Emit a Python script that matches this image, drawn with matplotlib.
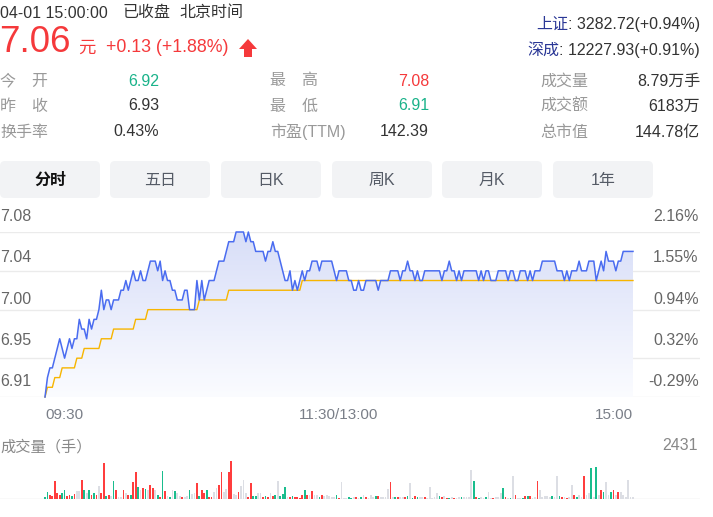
import matplotlib
matplotlib.use('Agg')
import matplotlib.pyplot as plt
import numpy as np
from matplotlib.patches import FancyBboxPatch, Polygon
from matplotlib.colors import LinearSegmentedColormap
from matplotlib.transforms import offset_copy

plt.rcParams['font.family'] = ['Liberation Sans', 'Noto Sans CJK SC', 'DejaVu Sans']

# ---- data -------------------------------------------------------------
# one price per minute, 09:30-11:30 + 13:00-15:00 (241 points)
price = [
    6.91, 6.93, 6.94, 6.94, 6.95, 6.96, 6.97, 6.96, 6.95, 6.96,
    6.97, 6.96, 6.97, 6.97, 6.99, 6.98, 6.98, 6.97, 6.99, 6.98,
    6.99, 6.99, 7.00, 7.02, 7.00, 7.01, 7.01, 7.00, 7.01, 7.01,
    7.01, 7.02, 7.02, 7.03, 7.02, 7.03, 7.04, 7.03, 7.03, 7.04,
    7.03, 7.03, 7.04, 7.05, 7.05, 7.05, 7.04, 7.05, 7.03, 7.04,
    7.03, 7.03, 7.02, 7.02, 7.01, 7.01, 7.01, 7.02, 7.02, 7.00,
    7.00, 7.00, 7.03, 7.01, 7.03, 7.01, 7.02, 7.03, 7.03, 7.03,
    7.04, 7.05, 7.05, 7.05, 7.06, 7.07, 7.07, 7.07, 7.08, 7.08,
    7.08, 7.08, 7.07, 7.08, 7.07, 7.07, 7.06, 7.06, 7.06, 7.06,
    7.05, 7.06, 7.06, 7.07, 7.06, 7.06, 7.05, 7.04, 7.03, 7.03,
    7.04, 7.02, 7.03, 7.02, 7.03, 7.04, 7.03, 7.04, 7.04, 7.05,
    7.05, 7.05, 7.04, 7.05, 7.05, 7.05, 7.05, 7.05, 7.04, 7.03,
    7.04, 7.04, 7.04, 7.04, 7.03, 7.03, 7.02, 7.02, 7.03, 7.02,
    7.02, 7.03, 7.03, 7.03, 7.03, 7.03, 7.02, 7.03, 7.03, 7.03,
    7.03, 7.04, 7.04, 7.04, 7.04, 7.03, 7.04, 7.04, 7.05, 7.04,
    7.04, 7.03, 7.04, 7.03, 7.03, 7.04, 7.04, 7.04, 7.04, 7.04,
    7.04, 7.04, 7.03, 7.04, 7.04, 7.05, 7.04, 7.04, 7.03, 7.04,
    7.03, 7.04, 7.04, 7.04, 7.04, 7.04, 7.04, 7.03, 7.04, 7.03,
    7.04, 7.04, 7.03, 7.03, 7.03, 7.04, 7.04, 7.04, 7.04, 7.03,
    7.04, 7.04, 7.03, 7.03, 7.04, 7.04, 7.04, 7.03, 7.04, 7.03,
    7.04, 7.04, 7.04, 7.05, 7.05, 7.05, 7.05, 7.05, 7.05, 7.04,
    7.04, 7.04, 7.03, 7.04, 7.03, 7.04, 7.04, 7.04, 7.05, 7.04,
    7.04, 7.04, 7.05, 7.05, 7.05, 7.03, 7.04, 7.05, 7.04, 7.06,
    7.05, 7.05, 7.05, 7.04, 7.05, 7.05, 7.06, 7.06, 7.06, 7.06,
    7.06,
]

# average price line: level and how many minutes it holds
avg_levels = [6.91, 6.92, 6.93, 6.94, 6.95, 6.96, 6.97, 6.98, 6.99, 7.00, 7.01, 7.02, 7.03]
avg_counts = [1, 3, 3, 6, 3, 7, 5, 9, 5, 21, 12, 30, 136]

# volume per minute (手) and bar colour: r = up, g = down, x = flat
volume = [
    100, 470, 255, 200, 1150, 400, 255, 400, 575, 190,
    255, 190, 320, 510, 510, 1220, 575, 360, 575, 255,
    360, 255, 830, 360, 2280, 190, 255, 190, 1150, 575,
    150, 150, 575, 360, 255, 255, 1070, 1700, 745, 575,
    720, 660, 575, 890, 720, 575, 255, 150, 1790, 510,
    200, 107, 575, 510, 360, 190, 150, 150, 190, 575,
    300, 360, 1000, 190, 575, 360, 575, 150, 150, 470,
    680, 890, 1700, 470, 620, 1700, 2431, 320, 255, 430,
    830, 1220, 360, 150, 1000, 190, 190, 360, 360, 150,
    190, 150, 360, 190, 255, 1150, 190, 320, 745, 107,
    107, 190, 107, 107, 45, 255, 575, 255, 255, 510,
    255, 255, 107, 255, 190, 255, 190, 150, 150, 255,
    45, 1070, 45, 45, 107, 45, 107, 107, 45, 107,
    255, 107, 45, 255, 150, 190, 190, 107, 107, 107,
    640, 1070, 107, 107, 107, 107, 107, 107, 190, 1000,
    45, 190, 107, 107, 107, 107, 45, 745, 45, 107,
    360, 190, 107, 190, 45, 45, 107, 45, 45, 107,
    107, 107, 107, 107, 1870, 1150, 107, 45, 107, 45,
    107, 430, 45, 45, 107, 107, 360, 680, 107, 45,
    45, 1470, 255, 45, 45, 45, 190, 190, 190, 45,
    107, 1150, 575, 107, 190, 190, 107, 190, 107, 1470,
    190, 107, 107, 45, 107, 890, 255, 107, 255, 107,
    1470, 255, 360, 1960, 107, 2020, 255, 575, 430, 1070,
    255, 430, 575, 255, 430, 430, 255, 107, 1220, 107,
    107,
]
vol_dir = (
    "ggrrrrrggr" "rgrxxrgxgr" "grxrrgrxgr" "xxrxrgrrgx" "rgxrrxgrgr"
    "xgxgxxrxxg" "xxrgrrgrrx" "xrrxxrrxxr" "xxxrrggxxr" "grxrgxgggx"
    "rgrrrrgrxr" "xxgrxxxxxg" "rxxxggxrxg" "xrxxxgrxxx" "xrxgrxxrgx"
    "grgxxrxxxx" "xgrxrgxrxx" "gxxxxgrgxx" "gxxrxxxgrx" "gxrxxgrgrx"
    "xrxxxxxgxx" "grxrxxrgxx" "rxxgxgxrgx" "xgrxrxxxxx" "x"
)

grid_prices = [7.08, 7.04, 7.00, 6.95, 6.91]
price_labels = ['7.08', '7.04', '7.00', '6.95', '6.91']
pct_labels = ['2.16%', '1.55%', '0.94%', '0.32%', '-0.29%']
time_labels = ['09:30', '11:30/13:00', '15:00']
time_ticks = [0, 120, 240]

stats_labels = [['今\u3000开', '昨\u3000收', '换手率'],
                ['最\u3000高', '最\u3000低', '市盈(TTM)'],
                ['成交量', '成交额', '总市值']]
stats_values = [['6.92', '6.93', '0.43%'],
                ['7.08', '6.91', '142.39'],
                ['8.79万手', '6183万', '144.78亿']]
tabs = ['分时', '五日', '日K', '周K', '月K', '1年']

RED = '#f5393b'
GREEN = '#1ab38a'
DARK = '#333333'
GREY = '#999999'

W, H = 713, 517
fig = plt.figure(figsize=(W / 100, H / 100), dpi=100)
fig.patch.set_facecolor('white')

# pixel canvas for the header part
cv = fig.add_axes([0, 0, 1, 1])
cv.set_xlim(0, W)
cv.set_ylim(H, 0)
cv.axis('off')

cv.text(0, 13, '04-01 15:00:00', fontsize=11.5, color=DARK, va='center')
cv.text(122, 13, '已收盘', fontsize=11.5, color=DARK, va='center')
cv.text(179, 13, '北京时间', fontsize=11.5, color=DARK, va='center')
cv.text(-1, 43, '7.06', fontsize=26.5, color=RED, va='center')
cv.text(78, 48, '元', fontsize=12.5, color=RED, va='center')
cv.text(106, 48, '+0.13 (+1.88%)', fontsize=12.8, color=RED, va='center')
cv.add_patch(Polygon([(248, 39), (257, 49), (252, 49), (252, 57), (244, 57), (244, 49), (239, 49)],
                     closed=True, color=RED, lw=0))

renderer = fig.canvas.get_renderer()


def index_line(y, name, rest):
    t = cv.text(700, y, rest, fontsize=11.5, color=DARK, ha='right', va='center')
    bb = t.get_window_extent(renderer)
    x0 = cv.transData.inverted().transform((bb.x0, bb.y0))[0]
    cv.text(x0, y, name, fontsize=11.5, color='#2a3796', ha='right', va='center')


index_line(24, '上证', ': 3282.72(+0.94%)')
index_line(50, '深成', ': 12227.93(+0.91%)')

row_y = [81, 106, 132]
col_label_x = [0, 270, 540]
col_value_x = [159, 429, 700]
value_colors = [[GREEN, DARK, DARK], [RED, GREEN, DARK], [DARK, DARK, DARK]]
for c in range(3):
    for r in range(3):
        cv.text(col_label_x[c], row_y[r], stats_labels[c][r], fontsize=11.5, color=GREY, va='center')
        cv.text(col_value_x[c], row_y[r], stats_values[c][r], fontsize=11.5,
                color=value_colors[c][r], ha='right', va='center')

tab_x = [0, 110, 221, 332, 442, 553]
for i, name in enumerate(tabs):
    cv.add_patch(FancyBboxPatch((tab_x[i], 161), 100, 37, boxstyle='round,pad=0,rounding_size=5',
                                facecolor='#f2f3f5', edgecolor='none'))
    cv.text(tab_x[i] + 50, 180, name, fontsize=11.5, ha='center', va='center',
            color='#111111' if i == 0 else '#555b66', fontweight='bold' if i == 0 else 'normal')

# ---- price chart -----------------------------------------------------
minutes = np.arange(len(price))
avg_price = np.repeat(avg_levels, avg_counts)
px_per_min = 2.45
xlim = (-45 / px_per_min, (700 - 45) / px_per_min)

ax = fig.add_axes([0, 1 - 397 / H, 700 / W, (397 - 232) / H])
ax.patch.set_alpha(0)
for s in ax.spines.values():
    s.set_visible(False)
for g in grid_prices:
    ax.axhline(g, color='#ebebeb', lw=1, zorder=0)

lo, hi = min(grid_prices), max(grid_prices)
fill = ax.fill_between(minutes, price, lo, color='none', lw=0)
cmap = LinearSegmentedColormap.from_list('f', ['#fbfcff', '#d8def8'])
grad = np.linspace(0, 1, 256).reshape(-1, 1)
img = ax.imshow(grad, extent=[0, minutes[-1], lo, hi], origin='lower', cmap=cmap,
                aspect='auto', zorder=1)
img.set_clip_path(fill.get_paths()[0], transform=ax.transData)

ax.plot(minutes, avg_price, color='#f7b500', lw=1.0, zorder=2, clip_on=False)
ax.plot(minutes, price, color='#4a6cf0', lw=1.1, zorder=3, clip_on=False)
ax.set_xlim(*xlim)
ax.set_ylim(lo, hi)
ax.set_yticks([])
ax.set_xticks(time_ticks, time_labels)
ax.tick_params(axis='x', length=0, pad=8, labelsize=11, labelcolor='#7a7f88')
for lbl, a in zip(ax.get_xticklabels(), ['left', 'center', 'right']):
    lbl.set_horizontalalignment(a)

label_levels = np.linspace(hi, lo, len(price_labels))
ytr = offset_copy(ax.get_yaxis_transform(), fig=fig, x=0, y=11, units='points')
for lv, pl, pc in zip(label_levels, price_labels, pct_labels):
    ax.text(0, lv, pl, transform=ytr, fontsize=11.5, color='#666666', ha='left', va='center')
    ax.text(0.998, lv, pc, transform=ytr, fontsize=11.5, color='#666666', ha='right', va='center')

# ---- volume ------------------------------------------------------------
dir_colors = {'r': '#ff3d3d', 'g': '#19bd8d', 'x': '#dcdee4'}
axv = fig.add_axes([0, 1 - 499 / H, 700 / W, 38 / H])
axv.patch.set_alpha(0)
for s in axv.spines.values():
    s.set_visible(False)
axv.bar(minutes, volume, width=0.7, color=[dir_colors[c] for c in vol_dir], clip_on=False, zorder=2)
axv.axhline(0, color='#e4e4e4', lw=1, zorder=1)
axv.set_xlim(*xlim)
axv.set_ylim(0, max(volume))
axv.set_xticks([])
axv.set_yticks([])

cv.text(0, 447, '成交量（手）', fontsize=11, color='#888888', va='center')
cv.text(698, 446, str(max(volume)), fontsize=11.5, color='#888888', ha='right', va='center')

fig.savefig('out.png', dpi=100, facecolor='white')
